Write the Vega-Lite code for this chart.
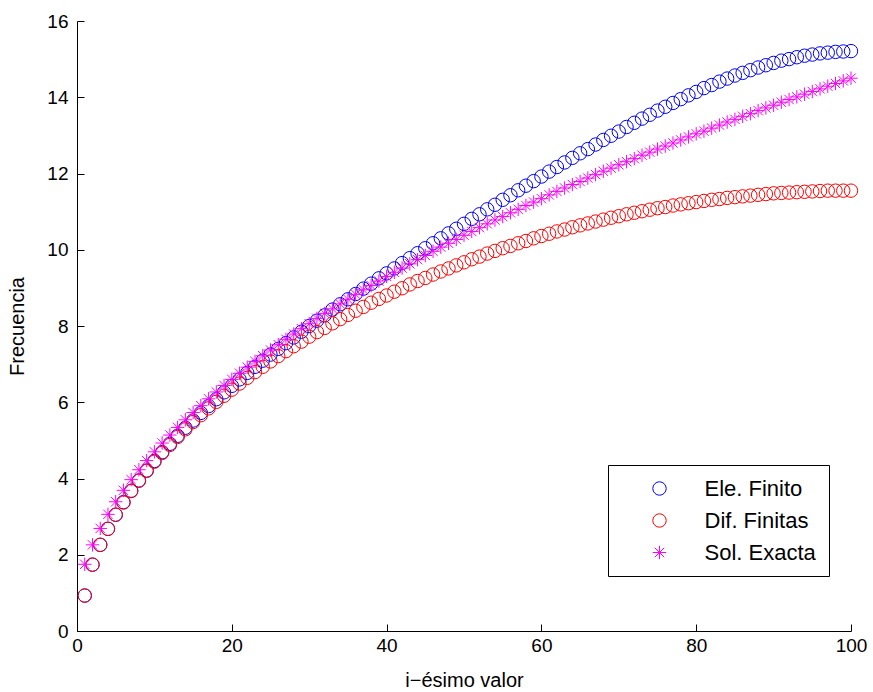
{
"$schema": "https://vega.github.io/schema/vega-lite/v6.json",
"width": 774, "height": 610,
"autosize": "none",
"padding": {"left": 77, "top": 21, "right": 22, "bottom": 61},
"background": "white",
"config": {
 "view": {"stroke": null},
 "font": "Liberation Sans",
 "axis": {"domainColor": "black", "tickColor": "black", "labelColor": "black", "titleColor": "black", "labelFont": "Liberation Sans", "titleFont": "Liberation Sans", "labelFontSize": 19, "titleFontSize": 20, "titleFontWeight": "normal", "grid": false, "tickSize": -7, "domainWidth": 1, "tickWidth": 1, "labelFlush": false},
 "legend": {"orient": "none", "legendX": 531, "legendY": 444, "padding": 12.5, "strokeColor": "black", "fillColor": "white", "cornerRadius": 0, "strokeWidth": 1, "labelFont": "Liberation Sans", "labelFontSize": 22, "labelColor": "black", "symbolSize": 180, "symbolStrokeWidth": 1, "symbolOffset": 28, "labelOffset": 34, "rowPadding": 10, "labelExpr": "datum.label + '\u00a0'"}
},
"data": {"values": [
{"i":1,"y":0.93,"s":"Ele. Finito"},{"i":2,"y":1.74,"s":"Ele. Finito"},{"i":3,"y":2.26,"s":"Ele. Finito"},{"i":4,"y":2.68,"s":"Ele. Finito"},{"i":5,"y":3.05,"s":"Ele. Finito"},{"i":6,"y":3.38,"s":"Ele. Finito"},{"i":7,"y":3.68,"s":"Ele. Finito"},{"i":8,"y":3.95,"s":"Ele. Finito"},{"i":9,"y":4.21,"s":"Ele. Finito"},{"i":10,"y":4.46,"s":"Ele. Finito"},
{"i":11,"y":4.69,"s":"Ele. Finito"},{"i":12,"y":4.91,"s":"Ele. Finito"},{"i":13,"y":5.12,"s":"Ele. Finito"},{"i":14,"y":5.33,"s":"Ele. Finito"},{"i":15,"y":5.52,"s":"Ele. Finito"},{"i":16,"y":5.72,"s":"Ele. Finito"},{"i":17,"y":5.90,"s":"Ele. Finito"},{"i":18,"y":6.08,"s":"Ele. Finito"},{"i":19,"y":6.26,"s":"Ele. Finito"},{"i":20,"y":6.43,"s":"Ele. Finito"},
{"i":21,"y":6.60,"s":"Ele. Finito"},{"i":22,"y":6.77,"s":"Ele. Finito"},{"i":23,"y":6.93,"s":"Ele. Finito"},{"i":24,"y":7.09,"s":"Ele. Finito"},{"i":25,"y":7.25,"s":"Ele. Finito"},{"i":26,"y":7.40,"s":"Ele. Finito"},{"i":27,"y":7.55,"s":"Ele. Finito"},{"i":28,"y":7.70,"s":"Ele. Finito"},{"i":29,"y":7.85,"s":"Ele. Finito"},{"i":30,"y":8.00,"s":"Ele. Finito"},
{"i":31,"y":8.14,"s":"Ele. Finito"},{"i":32,"y":8.28,"s":"Ele. Finito"},{"i":33,"y":8.43,"s":"Ele. Finito"},{"i":34,"y":8.57,"s":"Ele. Finito"},{"i":35,"y":8.70,"s":"Ele. Finito"},{"i":36,"y":8.84,"s":"Ele. Finito"},{"i":37,"y":8.98,"s":"Ele. Finito"},{"i":38,"y":9.11,"s":"Ele. Finito"},{"i":39,"y":9.25,"s":"Ele. Finito"},{"i":40,"y":9.38,"s":"Ele. Finito"},
{"i":41,"y":9.51,"s":"Ele. Finito"},{"i":42,"y":9.65,"s":"Ele. Finito"},{"i":43,"y":9.78,"s":"Ele. Finito"},{"i":44,"y":9.91,"s":"Ele. Finito"},{"i":45,"y":10.04,"s":"Ele. Finito"},{"i":46,"y":10.17,"s":"Ele. Finito"},{"i":47,"y":10.30,"s":"Ele. Finito"},{"i":48,"y":10.43,"s":"Ele. Finito"},{"i":49,"y":10.55,"s":"Ele. Finito"},{"i":50,"y":10.68,"s":"Ele. Finito"},
{"i":51,"y":10.81,"s":"Ele. Finito"},{"i":52,"y":10.93,"s":"Ele. Finito"},{"i":53,"y":11.06,"s":"Ele. Finito"},{"i":54,"y":11.18,"s":"Ele. Finito"},{"i":55,"y":11.31,"s":"Ele. Finito"},{"i":56,"y":11.43,"s":"Ele. Finito"},{"i":57,"y":11.56,"s":"Ele. Finito"},{"i":58,"y":11.68,"s":"Ele. Finito"},{"i":59,"y":11.80,"s":"Ele. Finito"},{"i":60,"y":11.92,"s":"Ele. Finito"},
{"i":61,"y":12.05,"s":"Ele. Finito"},{"i":62,"y":12.17,"s":"Ele. Finito"},{"i":63,"y":12.29,"s":"Ele. Finito"},{"i":64,"y":12.41,"s":"Ele. Finito"},{"i":65,"y":12.53,"s":"Ele. Finito"},{"i":66,"y":12.64,"s":"Ele. Finito"},{"i":67,"y":12.76,"s":"Ele. Finito"},{"i":68,"y":12.88,"s":"Ele. Finito"},{"i":69,"y":12.99,"s":"Ele. Finito"},{"i":70,"y":13.10,"s":"Ele. Finito"},
{"i":71,"y":13.22,"s":"Ele. Finito"},{"i":72,"y":13.33,"s":"Ele. Finito"},{"i":73,"y":13.44,"s":"Ele. Finito"},{"i":74,"y":13.54,"s":"Ele. Finito"},{"i":75,"y":13.65,"s":"Ele. Finito"},{"i":76,"y":13.75,"s":"Ele. Finito"},{"i":77,"y":13.85,"s":"Ele. Finito"},{"i":78,"y":13.95,"s":"Ele. Finito"},{"i":79,"y":14.05,"s":"Ele. Finito"},{"i":80,"y":14.14,"s":"Ele. Finito"},
{"i":81,"y":14.24,"s":"Ele. Finito"},{"i":82,"y":14.32,"s":"Ele. Finito"},{"i":83,"y":14.41,"s":"Ele. Finito"},{"i":84,"y":14.49,"s":"Ele. Finito"},{"i":85,"y":14.57,"s":"Ele. Finito"},{"i":86,"y":14.64,"s":"Ele. Finito"},{"i":87,"y":14.71,"s":"Ele. Finito"},{"i":88,"y":14.78,"s":"Ele. Finito"},{"i":89,"y":14.84,"s":"Ele. Finito"},{"i":90,"y":14.90,"s":"Ele. Finito"},
{"i":91,"y":14.96,"s":"Ele. Finito"},{"i":92,"y":15.00,"s":"Ele. Finito"},{"i":93,"y":15.05,"s":"Ele. Finito"},{"i":94,"y":15.09,"s":"Ele. Finito"},{"i":95,"y":15.12,"s":"Ele. Finito"},{"i":96,"y":15.15,"s":"Ele. Finito"},{"i":97,"y":15.17,"s":"Ele. Finito"},{"i":98,"y":15.19,"s":"Ele. Finito"},{"i":99,"y":15.20,"s":"Ele. Finito"},{"i":100,"y":15.21,"s":"Ele. Finito"},
{"i":1,"y":0.93,"s":"Dif. Finitas"},{"i":2,"y":1.74,"s":"Dif. Finitas"},{"i":3,"y":2.26,"s":"Dif. Finitas"},{"i":4,"y":2.68,"s":"Dif. Finitas"},{"i":5,"y":3.05,"s":"Dif. Finitas"},{"i":6,"y":3.37,"s":"Dif. Finitas"},{"i":7,"y":3.67,"s":"Dif. Finitas"},{"i":8,"y":3.94,"s":"Dif. Finitas"},{"i":9,"y":4.20,"s":"Dif. Finitas"},{"i":10,"y":4.44,"s":"Dif. Finitas"},
{"i":11,"y":4.67,"s":"Dif. Finitas"},{"i":12,"y":4.88,"s":"Dif. Finitas"},{"i":13,"y":5.09,"s":"Dif. Finitas"},{"i":14,"y":5.29,"s":"Dif. Finitas"},{"i":15,"y":5.48,"s":"Dif. Finitas"},{"i":16,"y":5.66,"s":"Dif. Finitas"},{"i":17,"y":5.84,"s":"Dif. Finitas"},{"i":18,"y":6.01,"s":"Dif. Finitas"},{"i":19,"y":6.17,"s":"Dif. Finitas"},{"i":20,"y":6.33,"s":"Dif. Finitas"},
{"i":21,"y":6.49,"s":"Dif. Finitas"},{"i":22,"y":6.64,"s":"Dif. Finitas"},{"i":23,"y":6.79,"s":"Dif. Finitas"},{"i":24,"y":6.93,"s":"Dif. Finitas"},{"i":25,"y":7.07,"s":"Dif. Finitas"},{"i":26,"y":7.21,"s":"Dif. Finitas"},{"i":27,"y":7.34,"s":"Dif. Finitas"},{"i":28,"y":7.47,"s":"Dif. Finitas"},{"i":29,"y":7.59,"s":"Dif. Finitas"},{"i":30,"y":7.72,"s":"Dif. Finitas"},
{"i":31,"y":7.84,"s":"Dif. Finitas"},{"i":32,"y":7.95,"s":"Dif. Finitas"},{"i":33,"y":8.07,"s":"Dif. Finitas"},{"i":34,"y":8.18,"s":"Dif. Finitas"},{"i":35,"y":8.29,"s":"Dif. Finitas"},{"i":36,"y":8.40,"s":"Dif. Finitas"},{"i":37,"y":8.50,"s":"Dif. Finitas"},{"i":38,"y":8.61,"s":"Dif. Finitas"},{"i":39,"y":8.71,"s":"Dif. Finitas"},{"i":40,"y":8.80,"s":"Dif. Finitas"},
{"i":41,"y":8.90,"s":"Dif. Finitas"},{"i":42,"y":8.99,"s":"Dif. Finitas"},{"i":43,"y":9.09,"s":"Dif. Finitas"},{"i":44,"y":9.18,"s":"Dif. Finitas"},{"i":45,"y":9.26,"s":"Dif. Finitas"},{"i":46,"y":9.35,"s":"Dif. Finitas"},{"i":47,"y":9.43,"s":"Dif. Finitas"},{"i":48,"y":9.51,"s":"Dif. Finitas"},{"i":49,"y":9.59,"s":"Dif. Finitas"},{"i":50,"y":9.67,"s":"Dif. Finitas"},
{"i":51,"y":9.75,"s":"Dif. Finitas"},{"i":52,"y":9.82,"s":"Dif. Finitas"},{"i":53,"y":9.90,"s":"Dif. Finitas"},{"i":54,"y":9.97,"s":"Dif. Finitas"},{"i":55,"y":10.04,"s":"Dif. Finitas"},{"i":56,"y":10.10,"s":"Dif. Finitas"},{"i":57,"y":10.17,"s":"Dif. Finitas"},{"i":58,"y":10.23,"s":"Dif. Finitas"},{"i":59,"y":10.30,"s":"Dif. Finitas"},{"i":60,"y":10.36,"s":"Dif. Finitas"},
{"i":61,"y":10.42,"s":"Dif. Finitas"},{"i":62,"y":10.48,"s":"Dif. Finitas"},{"i":63,"y":10.53,"s":"Dif. Finitas"},{"i":64,"y":10.59,"s":"Dif. Finitas"},{"i":65,"y":10.64,"s":"Dif. Finitas"},{"i":66,"y":10.69,"s":"Dif. Finitas"},{"i":67,"y":10.74,"s":"Dif. Finitas"},{"i":68,"y":10.79,"s":"Dif. Finitas"},{"i":69,"y":10.84,"s":"Dif. Finitas"},{"i":70,"y":10.88,"s":"Dif. Finitas"},
{"i":71,"y":10.93,"s":"Dif. Finitas"},{"i":72,"y":10.97,"s":"Dif. Finitas"},{"i":73,"y":11.01,"s":"Dif. Finitas"},{"i":74,"y":11.05,"s":"Dif. Finitas"},{"i":75,"y":11.09,"s":"Dif. Finitas"},{"i":76,"y":11.12,"s":"Dif. Finitas"},{"i":77,"y":11.16,"s":"Dif. Finitas"},{"i":78,"y":11.19,"s":"Dif. Finitas"},{"i":79,"y":11.22,"s":"Dif. Finitas"},{"i":80,"y":11.25,"s":"Dif. Finitas"},
{"i":81,"y":11.28,"s":"Dif. Finitas"},{"i":82,"y":11.31,"s":"Dif. Finitas"},{"i":83,"y":11.33,"s":"Dif. Finitas"},{"i":84,"y":11.36,"s":"Dif. Finitas"},{"i":85,"y":11.38,"s":"Dif. Finitas"},{"i":86,"y":11.40,"s":"Dif. Finitas"},{"i":87,"y":11.42,"s":"Dif. Finitas"},{"i":88,"y":11.44,"s":"Dif. Finitas"},{"i":89,"y":11.46,"s":"Dif. Finitas"},{"i":90,"y":11.48,"s":"Dif. Finitas"},
{"i":91,"y":11.49,"s":"Dif. Finitas"},{"i":92,"y":11.50,"s":"Dif. Finitas"},{"i":93,"y":11.51,"s":"Dif. Finitas"},{"i":94,"y":11.52,"s":"Dif. Finitas"},{"i":95,"y":11.53,"s":"Dif. Finitas"},{"i":96,"y":11.54,"s":"Dif. Finitas"},{"i":97,"y":11.55,"s":"Dif. Finitas"},{"i":98,"y":11.55,"s":"Dif. Finitas"},{"i":99,"y":11.55,"s":"Dif. Finitas"},{"i":100,"y":11.55,"s":"Dif. Finitas"},
{"i":1,"y":1.75,"s":"Sol. Exacta"},{"i":2,"y":2.26,"s":"Sol. Exacta"},{"i":3,"y":2.69,"s":"Sol. Exacta"},{"i":4,"y":3.06,"s":"Sol. Exacta"},{"i":5,"y":3.39,"s":"Sol. Exacta"},{"i":6,"y":3.69,"s":"Sol. Exacta"},{"i":7,"y":3.97,"s":"Sol. Exacta"},{"i":8,"y":4.23,"s":"Sol. Exacta"},{"i":9,"y":4.47,"s":"Sol. Exacta"},{"i":10,"y":4.70,"s":"Sol. Exacta"},
{"i":11,"y":4.93,"s":"Sol. Exacta"},{"i":12,"y":5.14,"s":"Sol. Exacta"},{"i":13,"y":5.34,"s":"Sol. Exacta"},{"i":14,"y":5.54,"s":"Sol. Exacta"},{"i":15,"y":5.73,"s":"Sol. Exacta"},{"i":16,"y":5.91,"s":"Sol. Exacta"},{"i":17,"y":6.09,"s":"Sol. Exacta"},{"i":18,"y":6.27,"s":"Sol. Exacta"},{"i":19,"y":6.44,"s":"Sol. Exacta"},{"i":20,"y":6.60,"s":"Sol. Exacta"},
{"i":21,"y":6.76,"s":"Sol. Exacta"},{"i":22,"y":6.92,"s":"Sol. Exacta"},{"i":23,"y":7.07,"s":"Sol. Exacta"},{"i":24,"y":7.22,"s":"Sol. Exacta"},{"i":25,"y":7.37,"s":"Sol. Exacta"},{"i":26,"y":7.51,"s":"Sol. Exacta"},{"i":27,"y":7.65,"s":"Sol. Exacta"},{"i":28,"y":7.79,"s":"Sol. Exacta"},{"i":29,"y":7.93,"s":"Sol. Exacta"},{"i":30,"y":8.06,"s":"Sol. Exacta"},
{"i":31,"y":8.20,"s":"Sol. Exacta"},{"i":32,"y":8.33,"s":"Sol. Exacta"},{"i":33,"y":8.45,"s":"Sol. Exacta"},{"i":34,"y":8.58,"s":"Sol. Exacta"},{"i":35,"y":8.70,"s":"Sol. Exacta"},{"i":36,"y":8.83,"s":"Sol. Exacta"},{"i":37,"y":8.95,"s":"Sol. Exacta"},{"i":38,"y":9.06,"s":"Sol. Exacta"},{"i":39,"y":9.18,"s":"Sol. Exacta"},{"i":40,"y":9.30,"s":"Sol. Exacta"},
{"i":41,"y":9.41,"s":"Sol. Exacta"},{"i":42,"y":9.52,"s":"Sol. Exacta"},{"i":43,"y":9.63,"s":"Sol. Exacta"},{"i":44,"y":9.74,"s":"Sol. Exacta"},{"i":45,"y":9.85,"s":"Sol. Exacta"},{"i":46,"y":9.96,"s":"Sol. Exacta"},{"i":47,"y":10.07,"s":"Sol. Exacta"},{"i":48,"y":10.17,"s":"Sol. Exacta"},{"i":49,"y":10.27,"s":"Sol. Exacta"},{"i":50,"y":10.38,"s":"Sol. Exacta"},
{"i":51,"y":10.48,"s":"Sol. Exacta"},{"i":52,"y":10.58,"s":"Sol. Exacta"},{"i":53,"y":10.68,"s":"Sol. Exacta"},{"i":54,"y":10.78,"s":"Sol. Exacta"},{"i":55,"y":10.87,"s":"Sol. Exacta"},{"i":56,"y":10.97,"s":"Sol. Exacta"},{"i":57,"y":11.06,"s":"Sol. Exacta"},{"i":58,"y":11.16,"s":"Sol. Exacta"},{"i":59,"y":11.25,"s":"Sol. Exacta"},{"i":60,"y":11.34,"s":"Sol. Exacta"},
{"i":61,"y":11.44,"s":"Sol. Exacta"},{"i":62,"y":11.53,"s":"Sol. Exacta"},{"i":63,"y":11.62,"s":"Sol. Exacta"},{"i":64,"y":11.71,"s":"Sol. Exacta"},{"i":65,"y":11.79,"s":"Sol. Exacta"},{"i":66,"y":11.88,"s":"Sol. Exacta"},{"i":67,"y":11.97,"s":"Sol. Exacta"},{"i":68,"y":12.06,"s":"Sol. Exacta"},{"i":69,"y":12.14,"s":"Sol. Exacta"},{"i":70,"y":12.23,"s":"Sol. Exacta"},
{"i":71,"y":12.31,"s":"Sol. Exacta"},{"i":72,"y":12.39,"s":"Sol. Exacta"},{"i":73,"y":12.48,"s":"Sol. Exacta"},{"i":74,"y":12.56,"s":"Sol. Exacta"},{"i":75,"y":12.64,"s":"Sol. Exacta"},{"i":76,"y":12.72,"s":"Sol. Exacta"},{"i":77,"y":12.80,"s":"Sol. Exacta"},{"i":78,"y":12.88,"s":"Sol. Exacta"},{"i":79,"y":12.96,"s":"Sol. Exacta"},{"i":80,"y":13.04,"s":"Sol. Exacta"},
{"i":81,"y":13.11,"s":"Sol. Exacta"},{"i":82,"y":13.19,"s":"Sol. Exacta"},{"i":83,"y":13.27,"s":"Sol. Exacta"},{"i":84,"y":13.35,"s":"Sol. Exacta"},{"i":85,"y":13.42,"s":"Sol. Exacta"},{"i":86,"y":13.50,"s":"Sol. Exacta"},{"i":87,"y":13.57,"s":"Sol. Exacta"},{"i":88,"y":13.65,"s":"Sol. Exacta"},{"i":89,"y":13.72,"s":"Sol. Exacta"},{"i":90,"y":13.79,"s":"Sol. Exacta"},
{"i":91,"y":13.87,"s":"Sol. Exacta"},{"i":92,"y":13.94,"s":"Sol. Exacta"},{"i":93,"y":14.01,"s":"Sol. Exacta"},{"i":94,"y":14.08,"s":"Sol. Exacta"},{"i":95,"y":14.15,"s":"Sol. Exacta"},{"i":96,"y":14.22,"s":"Sol. Exacta"},{"i":97,"y":14.29,"s":"Sol. Exacta"},{"i":98,"y":14.36,"s":"Sol. Exacta"},{"i":99,"y":14.43,"s":"Sol. Exacta"},{"i":100,"y":14.50,"s":"Sol. Exacta"}
]},
"mark": {"type": "point", "filled": false, "strokeWidth": 1, "size": 180, "opacity": 1},
"encoding": {
 "x": {"field": "i", "type": "quantitative", "scale": {"domain": [0, 100], "nice": false}, "axis": {"values": [0, 20, 40, 60, 80, 100], "title": "i−ésimo valor", "labelPadding": 12, "titlePadding": 15}},
 "y": {"field": "y", "type": "quantitative", "scale": {"domain": [0, 16], "nice": false}, "axis": {"values": [0, 2, 4, 6, 8, 10, 12, 14, 16], "title": "Frecuencia", "labelPadding": 16, "titlePadding": 19}},
 "color": {"field": "s", "type": "nominal", "scale": {"domain": ["Ele. Finito", "Dif. Finitas", "Sol. Exacta"], "range": ["#0000ff", "#ff0000", "#ff00ff"]}, "legend": {"title": null}},
 "shape": {"field": "s", "type": "nominal", "scale": {"domain": ["Ele. Finito", "Dif. Finitas", "Sol. Exacta"], "range": ["circle", "circle", "M0,-1L0,1M-1,0L1,0M-0.7,-0.7L0.7,0.7M-0.7,0.7L0.7,-0.7"]}, "legend": {"title": null}}
}
}
